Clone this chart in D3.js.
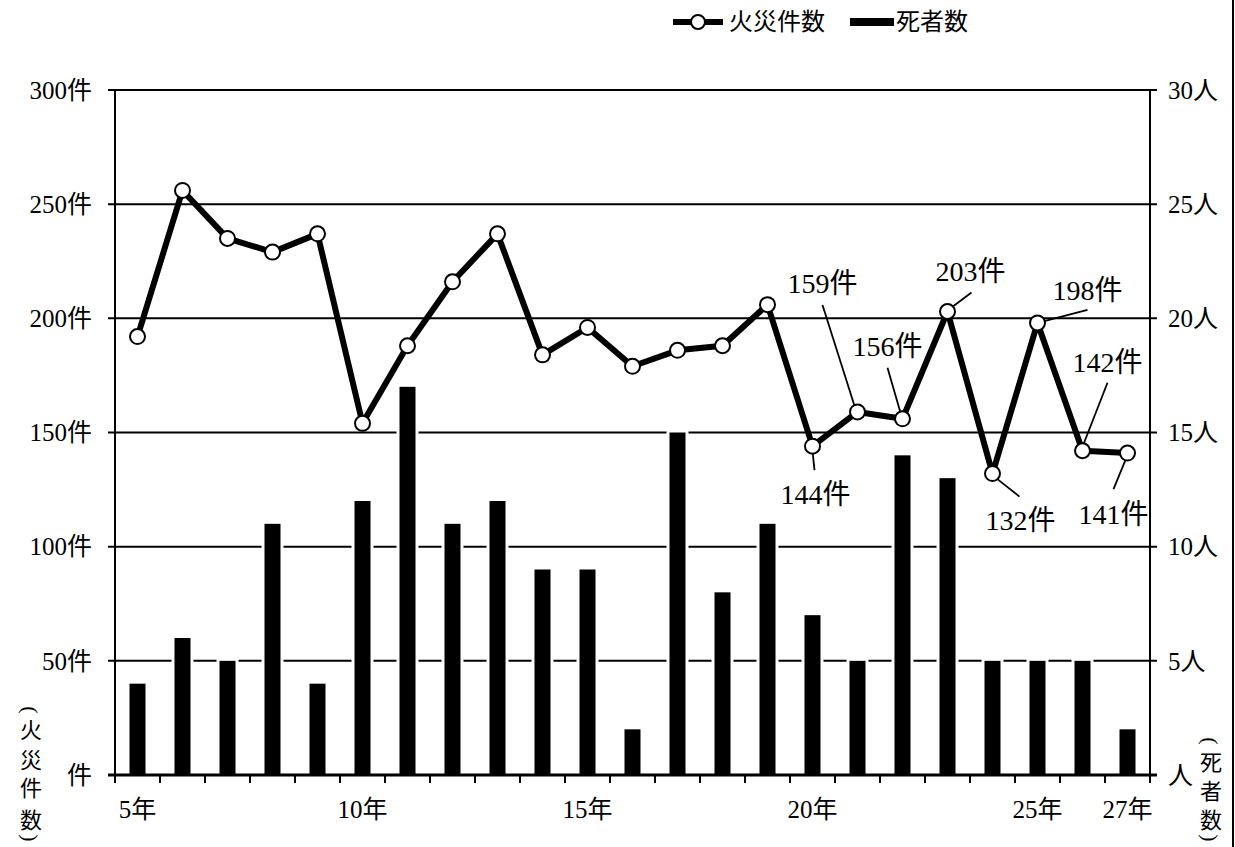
<!DOCTYPE html>
<html><head><meta charset="utf-8">
<script src="https://cdn.jsdelivr.net/npm/d3@7/dist/d3.min.js"></script>
<style>
html,body{margin:0;padding:0;background:#fff;}
svg{display:block;}
</style></head>
<body>
<svg id="chart" width="1235" height="847" font-family="'Liberation Serif', 'Noto Sans CJK JP', serif"></svg>
<script>
const years = ["5","6","7","8","9","10","11","12","13","14","15","16","17","18","19","20","21","22","23","24","25","26","27"];
const fires = [192,256,235,229,237,154,188,216,237,184,196,179,186,188,206,144,159,156,203,132,198,142,141];
const deaths = [4,6,5,11,4,12,17,11,12,9,9,2,15,8,11,7,5,14,13,5,5,5,2];
const leftTicks = [0,50,100,150,200,250,300];
const leftTickLabels = ["件","50件","100件","150件","200件","250件","300件"];
const rightTicks = [0,5,10,15,20,25,30];
const rightTickLabels = ["人","5人","10人","15人","20人","25人","30人"];
const xLabelYears = ["5","10","15","20","25","27"];
const annotatedYears = ["20","21","22","23","24","25","26","27"];
const seriesNames = ["火災件数","死者数"];
const leftTitle = ["火","災","件","数"];
const rightTitle = ["死","者","数"];

const svg = d3.select("#chart");
const L = 115, R = 1150, T = 90, B = 775;
const x = d3.scaleBand().domain(years).range([L, R]).padding(0);
const yL = d3.scaleLinear().domain([0, 300]).range([B, T]);
const yR = d3.scaleLinear().domain([0, 30]).range([B, T]);
const cx = d => x(d) + x.bandwidth() / 2;

// gridlines
svg.append("g").selectAll("line").data(leftTicks.filter(t => t > 0)).join("line")
  .attr("x1", L - 7).attr("x2", R + 7)
  .attr("y1", d => yL(d)).attr("y2", d => yL(d))
  .attr("stroke", "#000").attr("stroke-width", 2);

// bars
const bw = 16;
const bars = svg.append("g");
bars.selectAll("rect.bg").data(years).join("rect")
  .attr("x", d => cx(d) - bw/2 - 3).attr("width", bw + 6)
  .attr("y", (d,i) => yR(deaths[i]) - 3).attr("height", (d,i) => B - yR(deaths[i]) + 3)
  .attr("fill", "#fff");
bars.selectAll("rect.fg").data(years).join("rect")
  .attr("x", d => cx(d) - bw/2).attr("width", bw)
  .attr("y", (d,i) => yR(deaths[i])).attr("height", (d,i) => B - yR(deaths[i]))
  .attr("fill", "#000");

// axes lines
svg.append("line").attr("x1", L).attr("x2", L).attr("y1", T).attr("y2", B).attr("stroke","#000").attr("stroke-width",2);
svg.append("line").attr("x1", R).attr("x2", R).attr("y1", T).attr("y2", B).attr("stroke","#000").attr("stroke-width",2);
svg.append("line").attr("x1", L - 7).attr("x2", R + 7).attr("y1", B).attr("y2", B).attr("stroke","#000").attr("stroke-width",3);

// bottom ticks at category boundaries
const bounds = years.map(d => x(d)).concat([R]);
svg.append("g").selectAll("line").data(bounds).join("line")
  .attr("x1", d => d).attr("x2", d => d).attr("y1", B).attr("y2", B + 8)
  .attr("stroke","#000").attr("stroke-width",2);

// tick labels
svg.append("g").selectAll("text").data(leftTicks).join("text")
  .attr("x", 92).attr("y", d => yL(d)).attr("dy", "0.35em")
  .attr("text-anchor", "end").attr("font-size", 25)
  .text((d,i) => leftTickLabels[i]);
svg.append("g").selectAll("text").data(rightTicks).join("text")
  .attr("x", 1168).attr("y", d => yR(d)).attr("dy", "0.35em")
  .attr("text-anchor", "start").attr("font-size", 25)
  .text((d,i) => rightTickLabels[i]);
svg.append("g").selectAll("text").data(xLabelYears).join("text")
  .attr("x", d => cx(d)).attr("y", 809).attr("dy", "0.35em")
  .attr("text-anchor", "middle").attr("font-size", 25)
  .text(d => d + "年");

// axis titles (vertical) with rotated parentheses
function vTitle(cxp, chars, ys, topY, botY) {
  const g = svg.append("g");
  g.append("text").attr("transform", `translate(${cxp},${topY}) rotate(90)`)
    .attr("text-anchor","middle").attr("dy","0.35em").attr("font-size", 22).text("(");
  g.selectAll("text.c").data(chars).join("text").attr("class","c")
    .attr("x", cxp).attr("y", (d,i) => ys[i]).attr("dy","0.35em")
    .attr("text-anchor","middle").attr("font-size", 22).text(d => d);
  g.append("text").attr("transform", `translate(${cxp},${botY}) rotate(90)`)
    .attr("text-anchor","middle").attr("dy","0.35em").attr("font-size", 22).text(")");
}
vTitle(31, leftTitle, [730, 760, 788, 820], 710, 838);
vTitle(1211, rightTitle, [762, 791, 820], 741, 838);

// line
const line = d3.line().x((d,i) => cx(years[i])).y(d => yL(d));
svg.append("path").datum(fires).attr("d", line)
  .attr("fill","none").attr("stroke","#000").attr("stroke-width",6).attr("stroke-linejoin","round");

// annotations (leader lines under circles)
const annLayout = {
  "20": {l:[0,5,2,24], t:[3,48]},
  "21": {l:[-2,-3,-35,-107], t:[-35,-129]},
  "22": {l:[-2,-6,-15,-51], t:[-15,-73]},
  "23": {l:[0,-1,24,-19], t:[23,-40]},
  "24": {l:[3,4,27,23], t:[28,47]},
  "25": {l:[0,0,50,-13], t:[50,-33]},
  "26": {l:[0,-4,25,-68], t:[25,-89]},
  "27": {l:[0,2,-14,36], t:[-14,61]}
};
const ann = svg.append("g");
annotatedYears.forEach(yr => {
  const i = years.indexOf(yr);
  const px = cx(yr), py = yL(fires[i]);
  const a = annLayout[yr];
  ann.append("line").attr("x1", px + a.l[0]).attr("y1", py + a.l[1])
    .attr("x2", px + a.l[2]).attr("y2", py + a.l[3])
    .attr("stroke","#000").attr("stroke-width",1.8);
  ann.append("text").attr("x", px + a.t[0]).attr("y", py + a.t[1]).attr("dy","0.35em")
    .attr("text-anchor","middle").attr("font-size", 28).text(fires[i] + "件");
});

// markers
svg.append("g").selectAll("circle").data(fires).join("circle")
  .attr("cx", (d,i) => cx(years[i])).attr("cy", d => yL(d)).attr("r", 7.5)
  .attr("fill","#fff").attr("stroke","#000").attr("stroke-width",2);

// legend
const lg = svg.append("g");
lg.append("line").attr("x1",673).attr("x2",723).attr("y1",22).attr("y2",22).attr("stroke","#000").attr("stroke-width",6);
lg.append("circle").attr("cx",698).attr("cy",22).attr("r",7).attr("fill","#fff").attr("stroke","#000").attr("stroke-width",2);
lg.append("text").attr("x",729).attr("y",22).attr("dy","0.35em").attr("font-size",24).text(seriesNames[0]);
lg.append("rect").attr("x",850).attr("y",18).attr("width",44).attr("height",8).attr("fill","#000");
lg.append("text").attr("x",896).attr("y",22).attr("dy","0.35em").attr("font-size",24).text(seriesNames[1]);

// right border
svg.append("line").attr("x1",1233).attr("x2",1233).attr("y1",0).attr("y2",847).attr("stroke","#000").attr("stroke-width",2);
</script>
</body></html>
